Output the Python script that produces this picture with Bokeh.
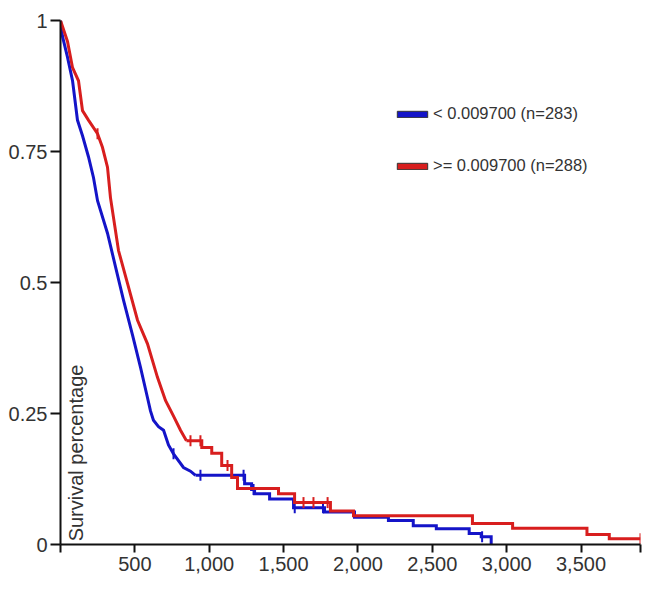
import math
from bokeh.plotting import figure
from bokeh.models import Range1d, FixedTicker, Label, Legend, LegendItem, NumeralTickFormatter
from bokeh.embed import file_html
from bokeh.resources import INLINE

BLUE = "#1414C8"
RED = "#D81E1E"
FONT = "Liberation Sans"
TXT = "#333333"
NAN = float("nan")

# ---- data (days, survival fraction) ----
blue_early_t = [0, 13, 47, 81, 114, 148, 188, 222, 249, 316, 370, 424, 484, 538, 585, 605, 625, 659, 693, 726, 760, 827, 874, 908]
blue_early_s = [1.0, 0.97, 0.93, 0.885, 0.81, 0.78, 0.74, 0.70, 0.656, 0.594, 0.53, 0.466, 0.40, 0.338, 0.28, 0.255, 0.237, 0.225, 0.218, 0.19, 0.173, 0.147, 0.14, 0.132]
blue_tail_t = [908, 1238, 1285, 1305, 1406, 1567, 1775, 1977, 2205, 2372, 2527, 2748, 2829, 2896]
blue_tail_s = [0.132, 0.116, 0.105, 0.097, 0.087, 0.07, 0.062, 0.052, 0.046, 0.036, 0.030, 0.021, 0.015, 0.0]
blue_cens_t = [760, 941, 1231, 1298, 1575, 1765, 2835]
blue_cens_s = [0.173, 0.132, 0.132, 0.105, 0.07, 0.07, 0.015]

red_early_t = [0, 47, 81, 121, 148, 188, 249, 282, 316, 336, 390, 451, 518, 585, 652, 706, 760, 807, 847]
red_early_s = [1.0, 0.96, 0.91, 0.885, 0.828, 0.81, 0.784, 0.758, 0.72, 0.662, 0.561, 0.498, 0.428, 0.383, 0.319, 0.275, 0.245, 0.218, 0.198]
red_tail_t = [847, 950, 1017, 1084, 1151, 1190, 1466, 1574, 1815, 1970, 2770, 3040, 3540, 3690, 3900]
red_tail_s = [0.198, 0.185, 0.174, 0.151, 0.128, 0.107, 0.097, 0.08, 0.064, 0.055, 0.04, 0.031, 0.019, 0.011, 0.011]
red_cens_t = [249, 874, 941, 1123, 1634, 1701, 1796, 3900]
red_cens_s = [0.784, 0.198, 0.198, 0.151, 0.08, 0.08, 0.08, 0.011]

x_ticks = [0, 500, 1000, 1500, 2000, 2500, 3000, 3500, 3900]
y_ticks = [0, 0.25, 0.5, 0.75, 1]
y_labels = ["0", "0.25", "0.5", "0.75", "1"]
series_labels = ["< 0.009700 (n=283)", ">= 0.009700 (n=288)"]
y_title = "Survival percentage"

p = figure(width=642, height=588, output_backend="svg", toolbar_location=None,
           x_range=Range1d(0, 3900), y_range=Range1d(0, 1),
           min_border_left=60, min_border_right=2, min_border_top=20, min_border_bottom=44)
p.outline_line_color = None
p.grid.visible = False
p.background_fill_color = "white"
p.border_fill_color = "white"

for ax in (p.xaxis[0], p.yaxis[0]):
    ax.axis_line_width = 2
    ax.axis_line_color = "#111111"
    ax.major_tick_line_color = "#111111"
    ax.major_tick_line_width = 2
    ax.minor_tick_line_color = None
    ax.major_label_text_font = FONT
    ax.major_label_text_font_size = "20px"
    ax.major_label_text_color = TXT

p.xaxis.ticker = FixedTicker(ticks=x_ticks)
p.xaxis.formatter = NumeralTickFormatter(format="0,0")
p.xaxis.major_label_overrides = {0: "", 3900: ""}
p.xaxis.major_tick_out = 8
p.xaxis.major_tick_in = 0
p.xaxis.major_label_standoff = 4

p.yaxis.ticker = FixedTicker(ticks=y_ticks)
p.yaxis.major_label_overrides = {t: l for t, l in zip(y_ticks, y_labels)}
p.yaxis.major_tick_out = 10
p.yaxis.major_tick_in = 0
p.yaxis.major_label_standoff = 3

# curves
for et, es, tt, ts, ct, cs, col in [
    (blue_early_t, blue_early_s, blue_tail_t, blue_tail_s, blue_cens_t, blue_cens_s, BLUE),
    (red_early_t, red_early_s, red_tail_t, red_tail_s, red_cens_t, red_cens_s, RED),
]:
    p.line(et, es, line_color=col, line_width=3, line_join="miter")
    p.step(tt, ts, mode="after", line_color=col, line_width=3, line_join="miter")
    p.scatter(ct, cs, marker="dash", angle=math.pi / 2, size=11, line_color=col, line_width=2)

# axis title inside the plot
p.add_layout(Label(x=0, y=0.006, x_offset=4, text=y_title, angle=math.pi / 2,
                   text_align="left", text_baseline="top", text_font=FONT,
                   text_font_size="20px", text_color=TXT))

# legend
lb = p.quad(left=[NAN], right=[NAN], top=[NAN], bottom=[NAN], fill_color=BLUE, line_color="#333333", line_width=1)
lr = p.quad(left=[NAN], right=[NAN], top=[NAN], bottom=[NAN], fill_color=RED, line_color="#333333", line_width=1)
legend = Legend(items=[LegendItem(label=series_labels[0], renderers=[lb]),
                       LegendItem(label=series_labels[1], renderers=[lr])],
                location=(333, 369), glyph_width=38, glyph_height=8,
                label_text_font=FONT, label_text_font_size="16.5px", label_text_color=TXT,
                label_standoff=2, spacing=33, padding=0, margin=0,
                border_line_color=None, background_fill_alpha=0)
p.add_layout(legend)

open("out.html", "w").write(file_html(p, INLINE))
